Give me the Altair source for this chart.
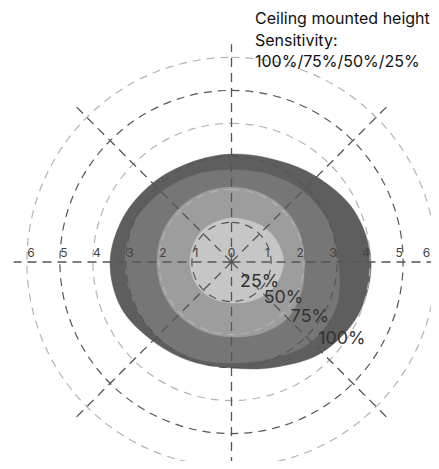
import altair as alt
import pandas as pd

# ---- data (units: 1 unit = one ring step) ----
angles = [0, 22.5, 45, 67.5, 90, 112.5, 135, 157.5, 180, 202.5, 225, 247.5, 270, 292.5, 315, 337.5]
zone_names = ["100%", "75%", "50%", "25%"]
zone_colors = ["#5e5e5e", "#767676", "#9d9d9d", "#c6c6c6"]
range_100 = [4.23, 4.03, 3.65, 3.36, 3.27, 3.26, 3.38, 3.55, 3.68, 3.62, 3.38, 3.25, 3.21, 3.45, 3.88, 4.16]
range_75 = [3.23, 3.17, 3.05, 2.88, 2.79, 2.86, 3.00, 3.18, 3.23, 3.21, 3.19, 3.13, 3.06, 3.16, 3.42, 3.45]
range_50 = [2.20, 2.24, 2.27, 2.27, 2.27, 2.27, 2.27, 2.27, 2.26, 2.27, 2.27, 2.27, 2.27, 2.34, 2.40, 2.30]
range_25 = [1.58, 1.52, 1.45, 1.36, 1.33, 1.30, 1.30, 1.27, 1.26, 1.26, 1.26, 1.24, 1.24, 1.30, 1.42, 1.52]
zone_ranges = [range_100, range_75, range_50, range_25]

ring_values = [1, 2, 3, 4, 5, 6]
ring_offset = 0.2

spoke_angles = [0, 90, 180, 270, 45, 135, 225, 315]
spoke_lengths = [6.6, 6.6, 6.6, 6.6, 6.8, 6.8, 6.8, 6.8]

tick_values = [-6, -5, -4, -3, -2, -1, 0, 1, 2, 3, 4, 5, 6]
tick_labels = ["6", "5", "4", "3", "2", "1", "0", "1", "2", "3", "4", "5", "6"]

pct_labels = ["25%", "50%", "75%", "100%"]
pct_label_r = [1.04, 1.92, 2.90, 4.08]
pct_label_angle = -35

title_lines = ["Ceiling mounted height", "Sensitivity:", "100%/75%/50%/25%"]

# ---- tables ----
zones_df = pd.DataFrame(
    [
        {"zone": z, "idx": i, "angle": a, "r": r}
        for z, rs in zip(zone_names, zone_ranges)
        for i, (a, r) in enumerate(zip(angles, rs))
    ]
)
rings_df = pd.DataFrame({"value": ring_values})
spokes_df = pd.DataFrame({"angle": spoke_angles, "length": spoke_lengths})
ticks_df = pd.DataFrame({"value": tick_values, "label": tick_labels})
pct_df = pd.DataFrame({"label": pct_labels, "r": pct_label_r})
title_df = pd.DataFrame({"text": title_lines, "line": list(range(len(title_lines)))})

# ---- layout ----
W, H = 423, 453
PX = 33.0
cx, cy = 231.5 - 8, 262 - 8
XMAX = (W - cx) / PX
xscale = alt.Scale(domain=[-cx / PX, XMAX], nice=False, zero=False)
yscale = alt.Scale(domain=[-(H - cy) / PX, cy / PX], nice=False, zero=False)
FONT = "Inter"


def X(field=None, datum=None):
    if datum is not None:
        return alt.X(datum=datum, type="quantitative", scale=xscale, axis=None)
    return alt.X(field, type="quantitative", scale=xscale, axis=None)


def Y(field=None, datum=None):
    if datum is not None:
        return alt.Y(datum=datum, type="quantitative", scale=yscale, axis=None)
    return alt.Y(field, type="quantitative", scale=yscale, axis=None)


layers = []
for name, color in zip(zone_names, zone_colors):
    layers.append(
        alt.Chart(zones_df)
        .transform_filter(alt.datum.zone == name)
        .transform_calculate(
            px="datum.r * cos(datum.angle * PI / 180)",
            py="datum.r * sin(datum.angle * PI / 180)",
        )
        .mark_line(interpolate="cardinal-closed", fill=color, stroke=color, strokeWidth=0.5, clip=True)
        .encode(x=X("px"), y=Y("py"), order=alt.Order("idx:Q"))
    )

rings = (
    alt.Chart(rings_df)
    .transform_calculate(
        rr=f"datum.value + {ring_offset}",
        parity="datum.value % 2 == 1 ? 'odd' : 'even'",
    )
    .mark_arc(fillOpacity=0, strokeWidth=1.2, strokeDash=[8, 6], clip=True)
    .encode(
        x=X(datum=0),
        y=Y(datum=0),
        theta=alt.value(0),
        theta2=alt.value(6.2832),
        radius=alt.Radius(
            "rr:Q",
            stack=None,
            scale=alt.Scale(type="linear", domain=[0, 10], range=[0, 10 * PX], zero=True),
        ),
        stroke=alt.Stroke(
            "parity:N",
            scale=alt.Scale(domain=["odd", "even"], range=["#555555", "#b4b4b4"]),
            legend=None,
        ),
    )
)

spokes = (
    alt.Chart(spokes_df)
    .transform_calculate(
        ex="datum.length * cos(datum.angle * PI / 180)",
        ey="datum.length * sin(datum.angle * PI / 180)",
        zx="0",
        zy="0",
    )
    .mark_rule(color="#555555", strokeWidth=1.3, strokeDash=[9, 6], clip=True)
    .encode(x=X("zx"), y=Y("zy"), x2="ex:Q", y2="ey:Q")
)

ticks = (
    alt.Chart(ticks_df)
    .transform_calculate(
        pos0="datum.value == 0 ? 0 : datum.value + (datum.value > 0 ? 0.08 : -0.08)",
        zy="0",
    )
    .transform_calculate(pos=f"min(datum.pos0, {XMAX - 0.14})")
    .mark_text(font=FONT, fontSize=12, color="#444444", baseline="alphabetic", dy=-5)
    .encode(x=X("pos"), y=Y("zy"), text="label:N")
)

pcts = (
    alt.Chart(pct_df)
    .transform_calculate(
        lx=f"datum.r * cos({pct_label_angle} * PI / 180)",
        ly=f"datum.r * sin({pct_label_angle} * PI / 180)",
    )
    .mark_text(font=FONT, fontSize=17.8, color="#333333", baseline="middle", align="center")
    .encode(x=X("lx"), y=Y("ly"), text="label:N")
)

title = (
    alt.Chart(title_df)
    .transform_calculate(
        tx=f"{(255 - 231.5) / PX}",
        ty=f"{(262 - 24) / PX} - datum.line * {21.5 / PX}",
    )
    .mark_text(font=FONT, fontSize=16, color="#111111", baseline="alphabetic", align="left")
    .encode(x=X("tx"), y=Y("ty"), text="text:N")
)

chart = (
    alt.layer(*layers, rings, spokes, ticks, pcts, title)
    .properties(width=W, height=H, padding=0, autosize=alt.AutoSizeParams(type="none"), background="white")
    .configure_view(stroke=None)
)

chart.save("out.html", embed_options={"renderer": "svg", "actions": False})
